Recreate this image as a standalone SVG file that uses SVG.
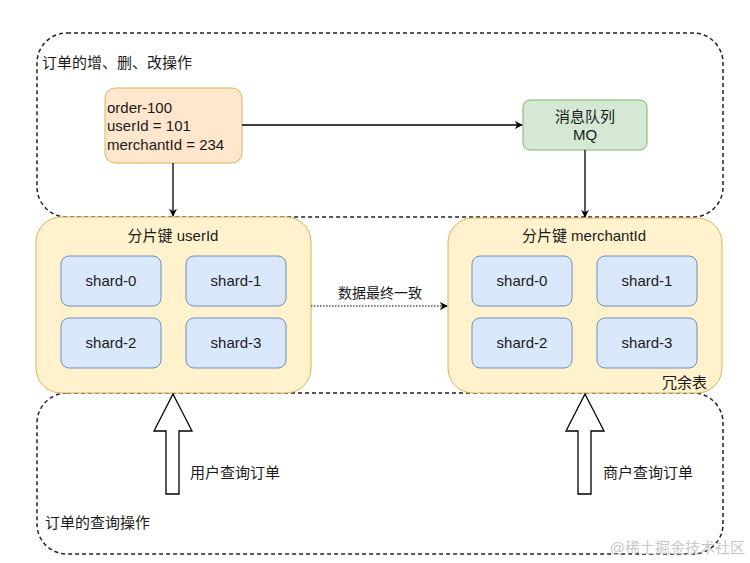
<svg xmlns="http://www.w3.org/2000/svg" width="750" height="563" viewBox="0 0 750 563">
<defs>
<style>
text{font-family:"Liberation Sans","Noto Sans CJK SC",Arial,sans-serif;fill:#1a1a1a}
.grp{fill:none;stroke:#222;stroke-width:1.5;stroke-dasharray:4 3}
.ybox{fill:#fff2cc;stroke:#d6b656;stroke-width:1}
.shard{fill:#dae8fc;stroke:#6c8ebf;stroke-width:1}
.shard-t{font-size:15px;text-anchor:middle}
.title{font-size:15px;text-anchor:middle}
.lbl{font-size:15px}
.line{fill:none;stroke:#000;stroke-width:1.3}
.hollow{fill:#fff;stroke:#000;stroke-width:1.3}
</style>
<marker id="arr" viewBox="0 0 10 10" refX="9" refY="5" markerWidth="8" markerHeight="8" orient="auto" markerUnits="userSpaceOnUse">
<path d="M0,0 L10,5 L0,10 L3,5 Z" fill="#000"/>
</marker>
</defs>
<rect width="750" height="563" fill="#fff"/>

<g id="group-write">
<rect class="grp" x="37" y="33" width="686" height="184" rx="30"/>
<text class="lbl" x="42" y="68">订单的增、删、改操作</text>
</g>
<g id="group-query">
<rect class="grp" x="37" y="393" width="686" height="161" rx="30"/>
<text class="lbl" x="45" y="528">订单的查询操作</text>
</g>

<g id="order">
<rect x="105" y="88" width="137" height="75" rx="10" fill="#ffe6cc" stroke="#d6b656" stroke-width="1"/>
<text x="107" y="113" font-size="15">order-100</text>
<text x="107" y="131" font-size="15">userId = 101</text>
<text x="107" y="150" font-size="15">merchantId = 234</text>
</g>

<g id="mq">
<rect x="523" y="100" width="124" height="50" rx="7" fill="#d5e8d4" stroke="#82b366" stroke-width="1"/>
<text class="title" x="585" y="122">消息队列</text>
<text class="title" x="585" y="140">MQ</text>
</g>

<g id="shard-user">
<rect class="ybox" x="36" y="217" width="275" height="176" rx="25"/>
<text class="title" x="173" y="241">分片键 userId</text>
<rect class="shard" x="61" y="256" width="100" height="50" rx="8"/>
<text class="shard-t" x="111" y="286">shard-0</text>
<rect class="shard" x="186" y="256" width="100" height="50" rx="8"/>
<text class="shard-t" x="236" y="286">shard-1</text>
<rect class="shard" x="61" y="318" width="100" height="50" rx="8"/>
<text class="shard-t" x="111" y="348">shard-2</text>
<rect class="shard" x="186" y="318" width="100" height="50" rx="8"/>
<text class="shard-t" x="236" y="348">shard-3</text>
</g>

<g id="shard-merchant">
<rect class="ybox" x="448" y="218" width="274" height="175" rx="25"/>
<text class="title" x="584" y="241">分片键 merchantId</text>
<rect class="shard" x="472" y="256" width="100" height="50" rx="8"/>
<text class="shard-t" x="522" y="286">shard-0</text>
<rect class="shard" x="597" y="256" width="100" height="50" rx="8"/>
<text class="shard-t" x="647" y="286">shard-1</text>
<rect class="shard" x="472" y="318" width="100" height="50" rx="8"/>
<text class="shard-t" x="522" y="348">shard-2</text>
<rect class="shard" x="597" y="318" width="100" height="50" rx="8"/>
<text class="shard-t" x="647" y="348">shard-3</text>
<text x="707" y="388" font-size="15" text-anchor="end">冗余表</text>
</g>

<g id="connectors">
<line class="line" x1="173" y1="163" x2="173" y2="216" marker-end="url(#arr)"/>
<line class="line" x1="242" y1="125" x2="522" y2="125" marker-end="url(#arr)"/>
<line class="line" x1="585" y1="150" x2="585" y2="217" marker-end="url(#arr)"/>
<line x1="311" y1="306" x2="447" y2="306" stroke="#000" stroke-width="1" stroke-dasharray="1.5 1.5" marker-end="url(#arr)"/>
<text x="380" y="298" font-size="14" text-anchor="middle">数据最终一致</text>
<path class="hollow" d="M173,394 L192,431 L179,431 L179,494 L166,494 L166,431 L154,431 Z"/>
<path class="hollow" d="M585,394 L604,431 L591,431 L591,494 L578,494 L578,431 L566,431 Z"/>
<text class="lbl" x="190" y="478">用户查询订单</text>
<text class="lbl" x="603" y="478">商户查询订单</text>
</g>

<text x="745" y="553" font-size="15" text-anchor="end" style="fill:#c8c8c8">@稀土掘金技术社区</text>
</svg>
